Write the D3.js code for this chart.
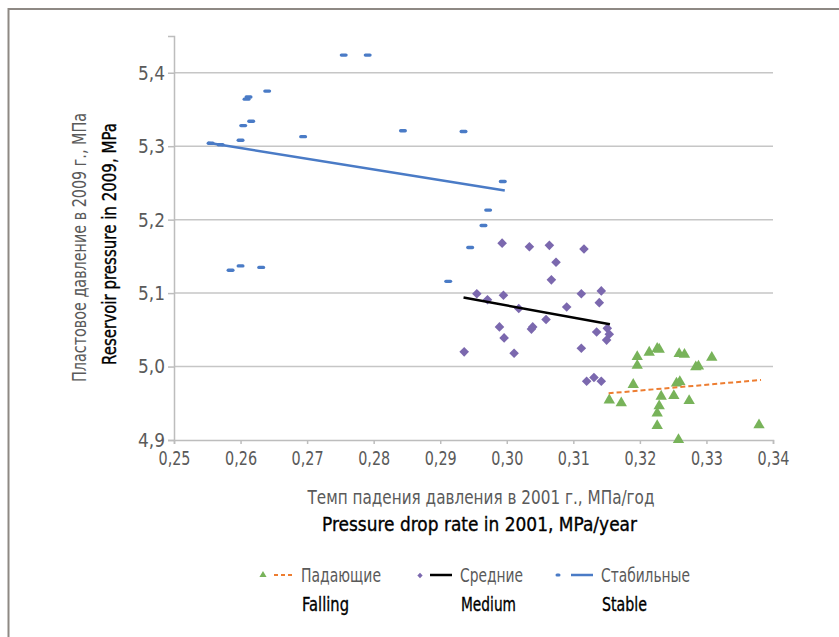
<!DOCTYPE html>
<html lang="ru">
<head>
  <meta charset="UTF-8">
  <title>Reservoir pressure vs pressure drop rate</title>
  <script src="https://d3js.org/d3.v7.min.js"></script>
  <style>
    body { margin: 0; background: #fff; }
    svg { display: block; }
    text { font-family: "DejaVu Sans", "Liberation Sans", sans-serif; }
  </style>
</head>
<body>
<svg id="chart" width="839" height="637"></svg>
<script>
  // --- data ---
  const xTicks = [0.25, 0.26, 0.27, 0.28, 0.29, 0.30, 0.31, 0.32, 0.33, 0.34];
  const yTicks = [4.9, 5.0, 5.1, 5.2, 5.3, 5.4];

  const stableX = [0.2555, 0.2570, 0.2585, 0.2600, 0.2600, 0.2604, 0.2609, 0.2612, 0.2616, 0.2631, 0.2640,
                   0.2694, 0.2755, 0.2791, 0.2844, 0.2935, 0.2912, 0.2945, 0.2965, 0.2972, 0.2994];
  const stableY = [5.304, 5.302, 5.131, 5.137, 5.308, 5.328, 5.364, 5.367, 5.334, 5.135, 5.375,
                   5.313, 5.424, 5.424, 5.321, 5.320, 5.116, 5.162, 5.192, 5.213, 5.252];

  const mediumX = [0.2993, 0.3034, 0.3064, 0.3116, 0.3074, 0.3067, 0.2955, 0.2971, 0.2995, 0.3018,
                   0.3090, 0.3112, 0.3142, 0.3139, 0.3059, 0.2989, 0.2996, 0.3039, 0.3037, 0.3135,
                   0.3151, 0.3154, 0.3150, 0.3112, 0.2936, 0.3011, 0.3120, 0.3131, 0.3142];
  const mediumY = [5.168, 5.163, 5.165, 5.160, 5.142, 5.118, 5.099, 5.091, 5.097, 5.079,
                   5.081, 5.099, 5.103, 5.087, 5.064, 5.054, 5.039, 5.054, 5.051, 5.047,
                   5.052, 5.044, 5.036, 5.025, 5.020, 5.018, 4.980, 4.985, 4.980];

  const fallingX = [0.3196, 0.3196, 0.3214, 0.3226, 0.3229, 0.3259, 0.3267, 0.3308, 0.3284, 0.3288,
                    0.3190, 0.3154, 0.3172, 0.3232, 0.3251, 0.3274, 0.3255, 0.3260, 0.3229, 0.3226,
                    0.3226, 0.3258, 0.3379];
  const fallingY = [5.014, 5.002, 5.020, 5.025, 5.024, 5.018, 5.017, 5.013, 5.000, 5.001,
                    4.976, 4.955, 4.951, 4.960, 4.961, 4.954, 4.978, 4.980, 4.947, 4.937,
                    4.920, 4.901, 4.921];

  // trend lines (end points)
  const stableTrendX = [0.2551, 0.2997];
  const stableTrendY = [5.3046, 5.2396];
  const mediumTrendX = [0.2935, 0.3155];
  const mediumTrendY = [5.0939, 5.0576];
  const fallingTrendX = [0.3153, 0.3382];
  const fallingTrendY = [4.9636, 4.9817];

  const xTitleRu = "Темп падения давления в 2001 г., МПа/год";
  const xTitleEn = "Pressure drop rate in 2001, MPa/year";
  const yTitleRu = "Пластовое давление в 2009 г., МПа";
  const yTitleEn = "Reservoir pressure in 2009, MPa";
  const seriesRu = ["Падающие", "Средние", "Стабильные"];
  const seriesEn = ["Falling", "Medium", "Stable"];

  // --- drawing ---
  const colors = { stable: "#4a7bc6", medium: "#7b68ae", falling: "#78b35a", fallTrend: "#ed7d31", medTrend: "#000" };
  const grey = "#5a5a5a";
  const svg = d3.select("#chart");

  // no condensed font installed, so squeeze text to the measured width
  const squeeze = (sel, len) => sel.attr("textLength", len).attr("lengthAdjust", "spacingAndGlyphs");

  // frame
  svg.append("rect")
    .attr("x", 8.5).attr("y", 9).attr("width", 900).attr("height", 700)
    .attr("fill", "none").attr("stroke", "#8e8984").attr("stroke-width", 2);

  const x = d3.scaleLinear().domain([0.25, 0.34]).range([174, 773]);
  const y = d3.scaleLinear().domain([4.9, 5.45]).range([440, 36]);
  const comma = f => v => f(v).replace(".", ",");

  // grid
  svg.append("g").selectAll("line")
    .data(yTicks.filter(d => d > 4.9))
    .join("line")
    .attr("x1", x(0.25)).attr("x2", x(0.34))
    .attr("y1", d => y(d)).attr("y2", d => y(d))
    .attr("stroke", "#c6c6c6").attr("stroke-width", 1.5);

  // axes
  const yAxis = svg.append("g")
    .attr("transform", `translate(${x(0.25)},0)`)
    .call(d3.axisLeft(y).tickValues(yTicks).tickFormat(comma(d3.format(".1f"))).tickSize(6).tickPadding(3));
  const xAxis = svg.append("g")
    .attr("transform", `translate(0,${y(4.9)})`)
    .call(d3.axisBottom(x).tickValues(xTicks).tickFormat(comma(d3.format(".2f"))).tickSize(4).tickPadding(7));

  [xAxis, yAxis].forEach(a => {
    a.select(".domain").attr("stroke", "#bdbdbd").attr("stroke-width", 1.5);
    a.selectAll(".tick line").attr("stroke", "#bdbdbd").attr("stroke-width", 1.5);
    a.selectAll(".tick text").attr("fill", grey).style("font-size", "20px")
      .style("font-family", '"DejaVu Sans", sans-serif');
  });
  squeeze(xAxis.selectAll(".tick text"), 32);
  squeeze(yAxis.selectAll(".tick text"), 27);

  // stable: short dashes
  svg.append("g").selectAll("rect")
    .data(d3.zip(stableX, stableY))
    .join("rect")
    .attr("x", d => x(d[0]) - 4).attr("y", d => y(d[1]) - 1.7)
    .attr("width", 8).attr("height", 3.4).attr("rx", 1.7)
    .attr("fill", colors.stable);

  // medium: diamonds
  const diamond = d3.symbol().type(d3.symbolSquare).size(46);
  svg.append("g").selectAll("path")
    .data(d3.zip(mediumX, mediumY))
    .join("path")
    .attr("d", diamond)
    .attr("transform", d => `translate(${x(d[0])},${y(d[1])}) rotate(45)`)
    .attr("fill", colors.medium);

  // falling: triangles
  const tri = d3.symbol().type(d3.symbolTriangle).size(56);
  svg.append("g").selectAll("path")
    .data(d3.zip(fallingX, fallingY))
    .join("path")
    .attr("d", tri)
    .attr("transform", d => `translate(${x(d[0])},${y(d[1]) + 0.5})`)
    .attr("fill", colors.falling);

  // trend lines
  const line = d3.line().x(d => x(d[0])).y(d => y(d[1]));
  svg.append("path").attr("d", line(d3.zip(stableTrendX, stableTrendY)))
    .attr("stroke", colors.stable).attr("stroke-width", 2.5).attr("fill", "none");
  svg.append("path").attr("d", line(d3.zip(mediumTrendX, mediumTrendY)))
    .attr("stroke", colors.medTrend).attr("stroke-width", 2.5).attr("fill", "none");
  svg.append("path").attr("d", line(d3.zip(fallingTrendX, fallingTrendY)))
    .attr("stroke", colors.fallTrend).attr("stroke-width", 2).attr("stroke-dasharray", "5,3").attr("fill", "none");

  // axis titles
  const title = (txt, px, py, fill, len, rot) => {
    const t = svg.append("text")
      .attr("text-anchor", "middle")
      .attr("fill", fill).style("font-size", "19px")
      .text(txt);
    squeeze(t, len);
    if (fill === "#000") t.attr("stroke", "#000").attr("stroke-width", 0.35);
    if (rot) t.attr("transform", `translate(${px},${py}) rotate(-90)`);
    else t.attr("x", px).attr("y", py);
  };
  title(xTitleRu, 481, 504, grey, 347);
  title(xTitleEn, 479.5, 531, "#000", 315);
  title(yTitleRu, 86, 247.5, grey, 269, true);
  title(yTitleEn, 116, 244, "#000", 242, true);

  // legend
  const leg = svg.append("g");
  const legX = [263, 420, 558];
  const textX = [301, 460, 601];
  const ruLen = [80, 63, 89];
  const enLen = [47, 55, 45];
  const ly = 575;

  leg.append("path").attr("d", d3.symbol().type(d3.symbolTriangle).size(22)())
    .attr("transform", `translate(${legX[0]},${ly})`).attr("fill", colors.falling);
  leg.append("line").attr("x1", 274).attr("x2", 294).attr("y1", ly).attr("y2", ly)
    .attr("stroke", colors.fallTrend).attr("stroke-width", 2).attr("stroke-dasharray", "4,3");

  leg.append("path").attr("d", d3.symbol().type(d3.symbolSquare).size(14)())
    .attr("transform", `translate(${legX[1]},${ly + 0.5}) rotate(45)`).attr("fill", colors.medium);
  leg.append("line").attr("x1", 430).attr("x2", 452).attr("y1", ly).attr("y2", ly)
    .attr("stroke", colors.medTrend).attr("stroke-width", 2.5);

  leg.append("rect").attr("x", legX[2] - 2.5).attr("y", ly - 1.5).attr("width", 5).attr("height", 3).attr("rx", 1.5)
    .attr("fill", colors.stable);
  leg.append("line").attr("x1", 571).attr("x2", 593).attr("y1", ly).attr("y2", ly)
    .attr("stroke", colors.stable).attr("stroke-width", 2.5);

  leg.selectAll("text.ru").data(seriesRu).join("text").attr("class", "ru")
    .attr("x", (d, i) => textX[i]).attr("y", 582)
    .attr("fill", grey).style("font-size", "19px").text(d => d)
    .attr("textLength", (d, i) => ruLen[i]).attr("lengthAdjust", "spacingAndGlyphs");
  leg.selectAll("text.en").data(seriesEn).join("text").attr("class", "en")
    .attr("x", (d, i) => textX[i] + 1).attr("y", 611)
    .attr("fill", "#000").attr("stroke", "#000").attr("stroke-width", 0.35)
    .style("font-size", "19px").text(d => d)
    .attr("textLength", (d, i) => enLen[i]).attr("lengthAdjust", "spacingAndGlyphs");
</script>
</body>
</html>
